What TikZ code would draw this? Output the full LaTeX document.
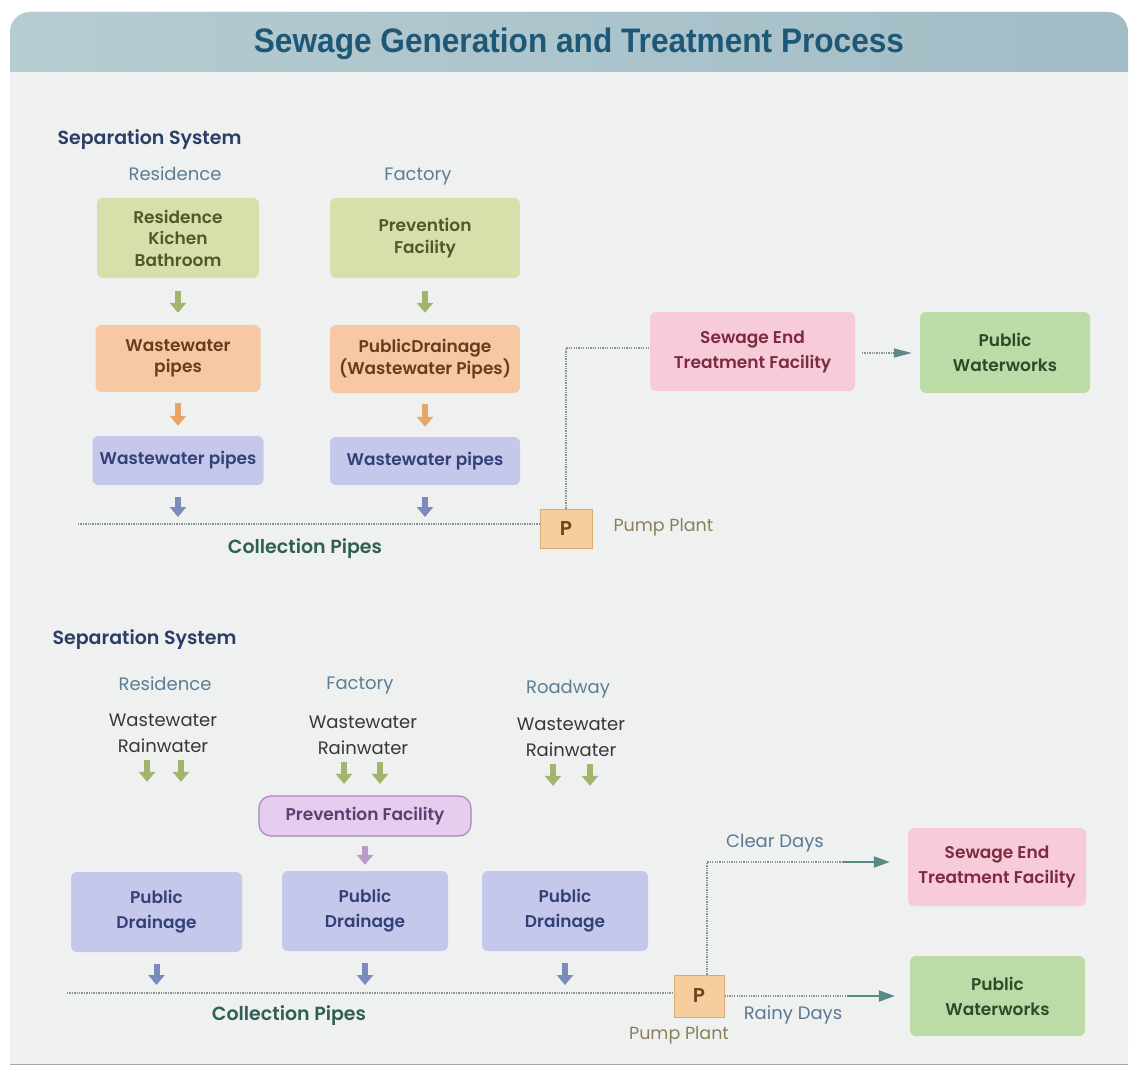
\documentclass[tikz,border=0pt]{standalone}
\usepackage{fontspec}
\setmainfont{Poppins}
\newfontfamily\medfont{Poppins Medium}
\newfontfamily\semifont{Poppins SemiBold}
\newfontfamily\titlefont[FakeStretch=0.93]{Liberation Sans Bold}
\usetikzlibrary{arrows.meta}
\definecolor{panel}{HTML}{EEF1F0}
\definecolor{titleL}{HTML}{B6CBD2}
\definecolor{titleR}{HTML}{A2BDC6}
\definecolor{titletext}{HTML}{1F5876}
\definecolor{gfill}{HTML}{D7E0AA}
\definecolor{gtext}{HTML}{4E5A2E}
\definecolor{ofill}{HTML}{F6C8A4}
\definecolor{otext}{HTML}{6E3A1E}
\definecolor{bfill}{HTML}{C5C8EB}
\definecolor{btext}{HTML}{34407A}
\definecolor{pfill}{HTML}{F7CBDA}
\definecolor{ptext}{HTML}{7D2B3E}
\definecolor{wfill}{HTML}{BCDBA6}
\definecolor{wtext}{HTML}{2E4A2A}
\definecolor{vfill}{HTML}{E6CDEF}
\definecolor{vdraw}{HTML}{A886B8}
\definecolor{vtext}{HTML}{5B3F6E}
\definecolor{pumpfill}{HTML}{F6CD9C}
\definecolor{pumpdraw}{HTML}{D9AB72}
\definecolor{pumptext}{HTML}{6B4520}
\definecolor{labelc}{HTML}{5B7D96}
\definecolor{sepc}{HTML}{2B3F66}
\definecolor{collc}{HTML}{2F5F55}
\definecolor{pumplc}{HTML}{8B7F5A}
\definecolor{garr}{HTML}{A3B46E}
\definecolor{oarr}{HTML}{E6A668}
\definecolor{barr}{HTML}{7C8BBD}
\definecolor{varr}{HTML}{B99CCB}
\definecolor{dotc}{HTML}{8A9494}
\definecolor{tealarr}{HTML}{5B8A86}
\definecolor{daysc}{HTML}{5A7896}
\begin{document}
\begin{tikzpicture}[x=1pt,y=-1pt,
  boxbase/.style={rounded corners=6pt, align=center, inner sep=0pt,
    font=\semifont\fontsize{17}{21.5}\selectfont},
  widesp/.style={font=\semifont\fontsize{17}{25}\selectfont},
  greenbox/.style={boxbase, fill=gfill, text=gtext},
  orangebox/.style={boxbase, fill=ofill, text=otext},
  bluebox/.style={boxbase, fill=bfill, text=btext},
  pinkbox/.style={boxbase, widesp, fill=pfill, text=ptext},
  waterbox/.style={boxbase, widesp, fill=wfill, text=wtext},
  purplebox/.style={boxbase, rounded corners=12pt, fill=vfill, draw=vdraw, line width=1.2pt, text=vtext},
  pumpbox/.style={boxbase, rounded corners=0pt, fill=pumpfill, draw=pumpdraw, line width=1pt, text=pumptext, font=\semifont\fontsize{20}{24}\selectfont},
  srclabel/.style={font=\fontsize{18}{22}\selectfont, text=labelc},
  flowtext/.style={font=\fontsize{18}{26}\selectfont, text=black!78, align=center},
  septitle/.style={font=\semifont\fontsize{19}{23}\selectfont, text=sepc, anchor=west},
  colltext/.style={font=\semifont\fontsize{19}{23}\selectfont, text=collc},
  pumplabel/.style={font=\fontsize{17.5}{21}\selectfont, text=pumplc},
  dayslabel/.style={font=\fontsize{18}{22}\selectfont, text=daysc},
  blockarrow/.style={line width=6pt, -{Triangle[width=16pt,length=10pt]}},
  garrow/.style={blockarrow, draw=garr},
  oarrow/.style={blockarrow, draw=oarr},
  barrow/.style={blockarrow, draw=barr},
  varrow/.style={blockarrow, draw=varr},
  dotline/.style={draw=dotc, line width=1.3pt, dash pattern=on 1.3pt off 1.1pt},
  tealarrow/.style={draw=tealarr, line width=2.2pt, -{Triangle[width=11pt,length=16pt]}}
]
\useasboundingbox (0,0) rectangle (1129,1070);
\fill[white] (0,0) rectangle (1129,1070);
% panel
\fill[panel, rounded corners=20pt] (10,12) rectangle (1128,1064);
\fill[panel] (10,60) rectangle (1128,1064);
\draw[black!35, line width=1pt] (10,1064) -- (1128,1064);
% title band
\shade[left color=titleL, right color=titleR, rounded corners=20pt] (10,12) rectangle (1128,72);
\shade[left color=titleL, right color=titleR] (10,42) rectangle (1128,72);
\node[font=\titlefont\fontsize{34}{36}\selectfont, text=titletext] (title) at (579,44) {Sewage Generation and Treatment Process};

% ---------- upper section ----------
\node[septitle] (sep1) at (54,140) {Separation System};
\node[srclabel] (res1) at (175,174) {Residence};
\node[srclabel] (fac1) at (418,177) {Factory};

\node[greenbox, minimum width=162pt, minimum height=80pt] (r1) at (178,238) {Residence\\Kichen\\Bathroom};
\node[greenbox, minimum width=190pt, minimum height=80pt] (f1) at (425,238) {Prevention\\Facility};
\node[orangebox, minimum width=165pt, minimum height=67pt] (r2) at (178,358.5) {Wastewater\\pipes};
\node[orangebox, minimum width=190pt, minimum height=68pt] (f2) at (425,359) {PublicDrainage\\(Wastewater Pipes)};
\node[bluebox, minimum width=171pt, minimum height=49pt] (r3) at (178,460.5) {Wastewater pipes};
\node[bluebox, minimum width=190pt, minimum height=48pt] (f3) at (425,461) {Wastewater pipes};

\draw[garrow, shorten <=13pt, shorten >=12pt] (r1.south) -- (r2.north);
\draw[garrow, shorten <=13pt, shorten >=12pt] (f1.south) -- (f2.north);
\draw[oarrow, shorten <=11pt, shorten >=10pt] (r2.south) -- (r3.north);
\draw[oarrow, shorten <=11pt, shorten >=10pt] (f2.south) -- (f3.north);

\node[pumpbox, minimum width=52pt, minimum height=39pt] (p1) at (566,528.5) {P};
\node[pumplabel, anchor=west] (pl1) at (610,527) {Pump Plant};
\coordinate (cl1) at (78,524);
\draw[dotline] (cl1) -- (cl1 -| p1.west);
\draw[barrow, shorten <=12pt, shorten >=7pt] (r3.south) -- (r3.south |- cl1);
\draw[barrow, shorten <=12pt, shorten >=7pt] (f3.south) -- (f3.south |- cl1);
\node[colltext] (coll1) at (305,549) {Collection Pipes};

\node[pinkbox, minimum width=205pt, minimum height=79pt] (se1) at (752.5,351.5) {Sewage End\\Treatment Facility};
\node[waterbox, minimum width=170pt, minimum height=81pt] (pw1) at (1005,352.5) {Public\\Waterworks};
\draw[dotline] (p1.north) |- (se1.west |- 0,348);
\coordinate (a1) at (862,353);
\draw[dotline] (a1) -- (893,353);
\draw[draw=tealarr, line width=1.3pt, -{Triangle[width=9pt,length=18pt]}, shorten >=8pt] (893,353) -- (pw1.west |- 0,353);

% ---------- lower section ----------
\node[septitle] (sep2) at (49,640) {Separation System};
\node[srclabel] (res2) at (165,684) {Residence};
\node[srclabel] (fac2) at (360,686) {Factory};
\node[srclabel] (road2) at (568,689) {Roadway};

\node[flowtext] (wr1) at (163,733) {Wastewater\\Rainwater};
\node[flowtext] (wr2) at (363,735) {Wastewater\\Rainwater};
\node[flowtext] (wr3) at (571,737) {Wastewater\\Rainwater};

\draw[garrow] ([xshift=-16pt]wr1.south) ++(0,4) -- ++(0,22);
\draw[garrow] ([xshift=18pt]wr1.south) ++(0,4) -- ++(0,22);
\draw[garrow] ([xshift=-19pt]wr2.south) ++(0,4) -- ++(0,22);
\draw[garrow] ([xshift=17pt]wr2.south) ++(0,4) -- ++(0,22);
\draw[garrow] ([xshift=-18pt]wr3.south) ++(0,4) -- ++(0,22);
\draw[garrow] ([xshift=19pt]wr3.south) ++(0,4) -- ++(0,22);

\node[purplebox, minimum width=212pt, minimum height=40pt] (pf) at (365,816) {Prevention Facility};
\node[bluebox, widesp, minimum width=171pt, minimum height=80pt] (d1) at (156.5,912) {Public\\Drainage};
\node[bluebox, widesp, minimum width=166pt, minimum height=80pt] (d2) at (365,911) {Public\\Drainage};
\node[bluebox, widesp, minimum width=166pt, minimum height=80pt] (d3) at (565,911) {Public\\Drainage};
\draw[varrow, shorten <=9pt, shorten >=6pt] (pf.south) -- (d2.north);

\node[pumpbox, minimum width=50pt, minimum height=42pt] (p2) at (699,996) {P};
\node[pumplabel] (pl2) at (679,1035) {Pump Plant};
\coordinate (cl2) at (67,993);
\draw[dotline] (cl2) -- (cl2 -| p2.west);
\draw[barrow, shorten <=12pt, shorten >=8pt] (d1.south) -- (d1.south |- cl2);
\draw[barrow, shorten <=12pt, shorten >=8pt] (d2.south) -- (d2.south |- cl2);
\draw[barrow, shorten <=12pt, shorten >=8pt] (d3.south) -- (d3.south |- cl2);
\node[colltext] (coll2) at (289,1016) {Collection Pipes};

\node[pinkbox, minimum width=178pt, minimum height=78pt] (se2) at (997,867) {Sewage End\\Treatment Facility};
\node[waterbox, minimum width=175pt, minimum height=80pt] (pw2) at (997.5,996) {Public\\Waterworks};

\coordinate (cd) at (843,862);
\coordinate (rd) at (847,996);
\draw[dotline] ([xshift=8pt]p2.north) |- (cd);
\draw[tealarrow, shorten >=18pt] (cd) -- (se2.west |- cd);
\draw[dotline] (p2.east |- rd) -- (rd);
\draw[tealarrow, shorten >=15pt] (rd) -- (pw2.west |- rd);
\node[dayslabel] (clear) at (775,843) {Clear Days};
\node[dayslabel] (rainy) at (793,1015) {Rainy Days};
\end{tikzpicture}
\end{document}
